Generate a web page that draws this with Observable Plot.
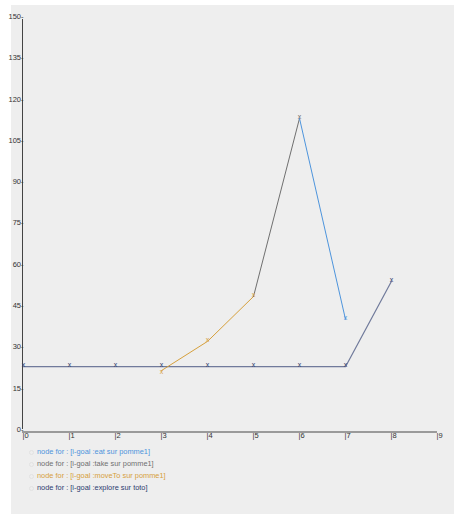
<!DOCTYPE html>
<html>
<head>
<meta charset="utf-8">
<script src="https://cdn.jsdelivr.net/npm/d3@7"></script>
<script src="https://cdn.jsdelivr.net/npm/@observablehq/plot@0.6"></script>
<style>
  html, body { margin: 0; padding: 0; background: #ffffff; width: 457px; height: 516px; overflow: hidden; }
  #panel { position: absolute; left: 11px; top: 5px; width: 443px; height: 509px; background: #eeeeee; }
  #chart { position: absolute; left: 0; top: 0; }
  #legend { position: absolute; left: 29px; top: 446px; font-family: "Liberation Sans", Arial, sans-serif; font-size: 7.4px; }
  .row { height: 12px; line-height: 12px; display: flex; align-items: center; white-space: nowrap; }
  .dot { width: 5px; height: 5px; border-radius: 50%; border: 1px solid #e2e2e2; margin-right: 3px; box-sizing: border-box; }
</style>
</head>
<body>
<div id="panel"></div>
<div id="chart"></div>
<div id="legend"></div>
<script>
const seriesNames = [
  "node for : [i-goal :eat sur pomme1]",
  "node for : [i-goal :take sur pomme1]",
  "node for : [i-goal :moveTo sur pomme1]",
  "node for : [i-goal :explore sur toto]"
];
const seriesColors = ["#4d94dc", "#6f6f6f", "#d6a03c", "#2c3c6e"];

const eatX = [6, 7];
const eatY = [113, 40];
const takeX = [5, 6];
const takeY = [48.3, 113];
const moveToX = [3, 4, 5];
const moveToY = [21.4, 32, 48.3];
const exploreX = [0, 1, 2, 3, 4, 5, 6, 7, 8];
const exploreY = [23, 23, 23, 23, 23, 23, 23, 23, 54];

const xTicks = [0, 1, 2, 3, 4, 5, 6, 7, 8, 9];
const yTicks = [0, 15, 30, 45, 60, 75, 90, 105, 120, 135, 150];

function rows(xs, ys, s) { return xs.map((x, i) => ({x, y: ys[i], s})); }
const explore = rows(exploreX, exploreY, 3);
const moveTo = rows(moveToX, moveToY, 2);
const take = rows(takeX, takeY, 1);
const eat = rows(eatX, eatY, 0);

const markersTop = [
  ...explore,
  {x: moveToX[1], y: moveToY[1], s: 2},
  {x: moveToX[2], y: moveToY[2], s: 2},
  {x: takeX[1], y: takeY[1], s: 1},
  {x: eatX[1], y: eatY[1], s: 0}
];
const markersLow = [{x: moveToX[0], y: moveToY[0], s: 2}];

const chart = Plot.plot({
  width: 457,
  height: 440,
  marginLeft: 23,
  marginRight: 20,
  marginTop: 16,
  marginBottom: 11,
  style: { background: "transparent", fontFamily: "Liberation Sans, Arial, sans-serif", fontSize: "7.5px", color: "#333" },
  x: { domain: [0, 9], axis: null },
  y: { domain: [0, 150], axis: null },
  marks: [
    Plot.ruleX([0], { y1: 0, y2: 150, dx: -1, insetBottom: -3, stroke: "#444", strokeWidth: 1 }),
    Plot.ruleY([0], { x1: 0, x2: 9, dy: 2.5, insetLeft: -1, stroke: "#9a9a9a", strokeWidth: 2 }),
    Plot.text(yTicks, { x: 0, y: d => d, text: d => d + "-", textAnchor: "end", dx: 0, fill: "#333" }),
    Plot.text(xTicks, { x: d => d, y: 0, text: d => "|" + d, textAnchor: "start", dx: -1, dy: 6.5, fill: "#333" }),
    Plot.line(explore, { x: "x", y: "y", dy: 0.5, stroke: seriesColors[3], strokeWidth: 1.2, strokeOpacity: 0.65 }),
    Plot.line(moveTo, { x: "x", y: "y", stroke: seriesColors[2], strokeWidth: 1 }),
    Plot.line(take, { x: "x", y: "y", stroke: seriesColors[1], strokeWidth: 1 }),
    Plot.line(eat, { x: "x", y: "y", stroke: seriesColors[0], strokeWidth: 1 }),
    Plot.text(markersTop, { x: "x", y: "y", text: () => "x", fill: d => seriesColors[d.s], fontSize: 7, dy: -1.5 }),
    Plot.text(markersLow, { x: "x", y: "y", text: () => "x", fill: d => seriesColors[d.s], fontSize: 7, dy: 1.5 })
  ]
});
document.getElementById("chart").appendChild(chart);

const legend = document.getElementById("legend");
seriesNames.forEach((name, i) => {
  const row = document.createElement("div");
  row.className = "row";
  const dot = document.createElement("span");
  dot.className = "dot";
  const label = document.createElement("span");
  label.textContent = name;
  label.style.color = seriesColors[i];
  row.appendChild(dot);
  row.appendChild(label);
  legend.appendChild(row);
});
</script>
</body>
</html>
